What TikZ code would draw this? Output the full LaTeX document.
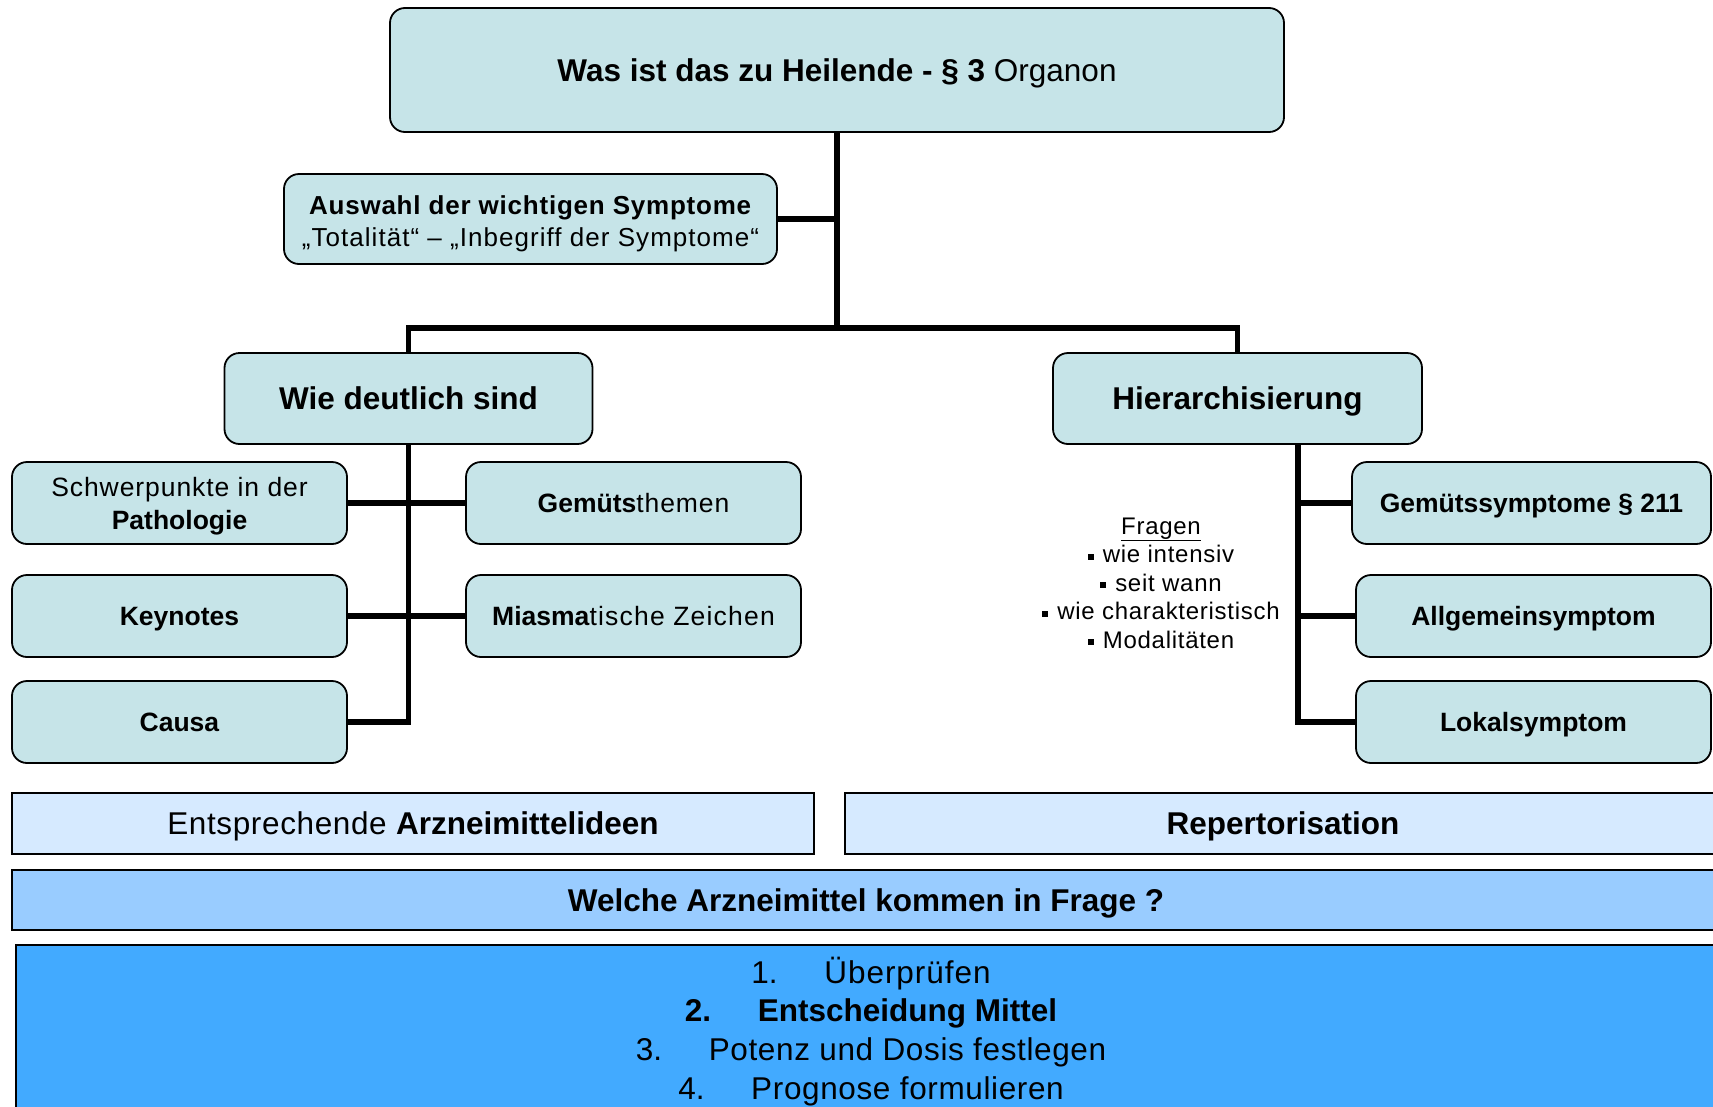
\documentclass[tikz,border=0pt]{standalone}
\usepackage{fontspec}
\setmainfont{Liberation Sans}
\usetikzlibrary{backgrounds}
\definecolor{boxteal}{HTML}{C6E4E8}
\definecolor{lightblue}{HTML}{D6EAFF}
\definecolor{midblue}{HTML}{99CCFF}
\definecolor{strongblue}{HTML}{42AAFF}
\newcommand\fs[2]{\fontsize{#1bp}{#2bp}\selectfont}
\newcommand\lsp[2]{{\addfontfeatures{LetterSpace=#1}#2}}
\newcommand\sqb{\rule[0.12em]{0.25em}{0.25em}\hspace{9bp}}
\newcommand\dn[2]{\raisebox{-#1bp}[\height][\depth]{#2}}
\tikzset{
  box/.style={draw=black, line width=1.8bp, fill=boxteal, rounded corners=15bp,
    rectangle, inner sep=0pt, align=center},
  bar/.style={draw=black, line width=2.5bp, rectangle, inner sep=0pt, align=center},
  conn/.style={draw=black, line width=5.5bp},
  big/.style={font=\fs{31.5}{36}, text height=22.6bp, text depth=0pt},
  mid/.style={font=\fs{26.5}{33}, text height=19bp, text depth=0pt},
  midml/.style={font=\fs{26.5}{33}},
}
\begin{document}
\begin{tikzpicture}[x=1bp,y=-1bp]
\useasboundingbox (0,0) rectangle (1713,1106);
\clip (0,0) rectangle (1713,1106);

% top level
\node[box, big, minimum width=894bp, minimum height=124bp] (top) at (837,70)
  {\textbf{Was ist das zu Heilende - § 3} Organon};
\node[box, font=\fs{26}{32}, minimum width=493bp, minimum height=90bp] (ausw) at (530.5,219)
  {\dn{4.4}{\textbf{\addfontfeatures{LetterSpace=3}Auswahl der wichtigen Symptome}}\\
   \dn{4.4}{\lsp{4}{„Totalität“ – „Inbegriff der Symptome“}}};

\node[box, big, minimum width=368bp, minimum height=91bp] (wie) at (408.5,398.5)
  {\textbf{Wie deutlich sind}};
\node[box, big, minimum width=369bp, minimum height=91bp] (hier) at (1237.5,398.5)
  {\textbf{Hierarchisierung}};

% left group
\node[box, midml, minimum width=335bp, minimum height=82bp] (schw) at (179.5,503)
  {\dn{3.3}{\lsp{3.5}{Schwerpunkte in der}}\\\dn{3.3}{\textbf{Pathologie}}};
\node[box, mid, minimum width=335bp, minimum height=82bp] (key) at (179.5,616)
  {\textbf{Keynotes}};
\node[box, mid, minimum width=335bp, minimum height=82bp] (causa) at (179.5,722)
  {\textbf{Causa}};
\node[box, mid, minimum width=335bp, minimum height=82bp] (gem) at (633.5,503)
  {\textbf{Gemüts}\lsp{3.5}{themen}};
\node[box, mid, minimum width=335bp, minimum height=82bp] (mia) at (633.5,616)
  {\textbf{Miasma}\lsp{4.5}{tische Zeichen}};

% right group
\node[box, mid, minimum width=359bp, minimum height=82bp] (gsym) at (1531.5,503)
  {\textbf{Gemütssymptome § 211}};
\node[box, mid, minimum width=355bp, minimum height=82bp] (allg) at (1533.5,616)
  {\textbf{Allgemeinsymptom}};
\node[box, mid, minimum width=355bp, minimum height=82bp] (lokal) at (1533.5,722)
  {\textbf{Lokalsymptom}};

\node[font=\fs{24}{28.5}, align=center, inner sep=0pt] (fragen) at (1161,583)
  {\lsp{3}{\underline{Fragen}}\\
   \sqb\lsp{3}{wie intensiv}\\
   \sqb\lsp{3}{seit wann}\\
   \sqb\lsp{3}{wie charakteristisch}\\
   \sqb\lsp{3}{Modalitäten}};

% bottom bars
\node[bar, big, fill=lightblue, minimum width=802bp, minimum height=61bp] (ent) at (413,823.5)
  {\lsp{2}{Entsprechende} \textbf{Arzneimittelideen}};
\node[bar, big, fill=lightblue, minimum width=876bp, minimum height=61bp] (rep) at (1283,823.5)
  {\textbf{Repertorisation}};
\node[bar, big, fill=midblue, minimum width=1708bp, minimum height=60bp] (welche) at (866,900)
  {\textbf{Welche Arzneimittel kommen in Frage ?}};
\node[bar, fill=strongblue, font=\fs{31.5}{38.7}, minimum width=1710bp, minimum height=168bp] (liste) at (871,1029)
  {\dn{2.2}{\makebox[73bp][l]{1.}\lsp{3}{Überprüfen}}\\
   \dn{2.2}{\textbf{\makebox[73bp][l]{2.}Entscheidung Mittel}}\\
   \dn{2.2}{\makebox[73bp][l]{3.}\lsp{2}{Potenz und Dosis festlegen}}\\
   \dn{2.2}{\makebox[73bp][l]{4.}\lsp{2}{Prognose formulieren}}};

\begin{scope}[on background layer]
  \fill[white] (0,0) rectangle (1713,1106);
  \coordinate (hub) at (837,328);
  \coordinate (rt) at ([xshift=60.5bp]hier.south);
  \draw[conn] (top.south) -- (hub);
  \draw[conn] (ausw.east) -- (ausw.east -| hub);
  \draw[conn] (wie.north) |- (hub) -| (hier.north);
  \draw[conn] (wie.south) |- (causa.east);
  \draw[conn] (schw.east) -- (gem.west);
  \draw[conn] (key.east) -- (mia.west);
  \draw[conn] (rt) |- (lokal.west);
  \draw[conn] (gsym.west) -- (gsym.west -| rt);
  \draw[conn] (allg.west) -- (allg.west -| rt);
\end{scope}
\end{tikzpicture}
\end{document}
